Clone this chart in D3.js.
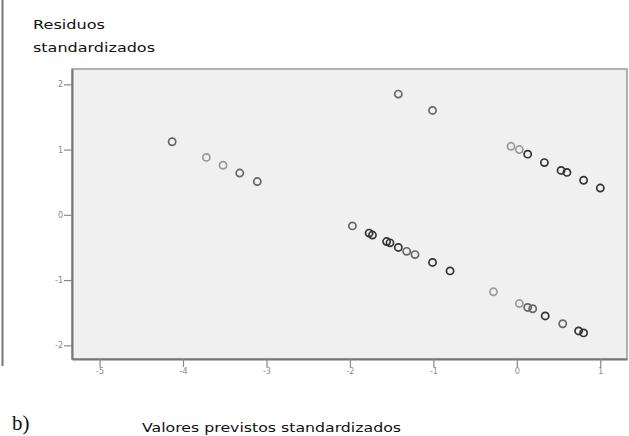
<!DOCTYPE html>
<html><head><meta charset="utf-8">
<script src="https://cdn.jsdelivr.net/npm/d3@7/dist/d3.min.js"></script>
<style>body{margin:0;background:#fff}svg{display:block}</style>
</head><body>
<svg id="c" width="629" height="436"></svg>
<script>
// Data (standardized predicted value, standardized residual, number of overlapping cases)
const predicted = [-4.13,-3.72,-3.52,-3.32,-3.11,
  -1.42,-1.01,
  -0.07,0.03,0.13,0.33,0.53,0.60,0.80,1.00,
  -1.97,-1.77,-1.73,-1.56,-1.52,-1.42,-1.32,-1.22,-1.01,-0.80,
  -0.28,0.03,0.13,0.19,0.34,0.55,0.74,0.80];
const residuals = [1.12,0.88,0.76,0.64,0.51,
  1.85,1.60,
  1.05,1.00,0.93,0.80,0.68,0.65,0.53,0.41,
  -0.17,-0.28,-0.31,-0.41,-0.43,-0.50,-0.56,-0.61,-0.73,-0.86,
  -1.18,-1.36,-1.42,-1.44,-1.55,-1.67,-1.78,-1.81];
const counts = [2,1,1,2,2,
  2,2,
  1,1,3,3,3,3,3,3,
  2,3,3,3,3,3,2,2,3,3,
  1,1,2,2,3,2,3,3];
const xTicks = [-5,-4,-3,-2,-1,0,1];
const yTicks = [-2,-1,0,1,2];
const yTitle = ["Residuos","standardizados"];
const xTitle = "Valores previstos standardizados";
const panelLabel = "b)";

const svg = d3.select("#c");
const L = 72, R = 627, T = 69, B = 359;
const x = d3.scaleLinear().domain([-5.33, 1.32]).range([L, R]);
const y = d3.scaleLinear().domain([-2.21, 2.235]).range([B, T]);

// outer left rule
svg.append("line").attr("x1",2.5).attr("x2",2.5).attr("y1",0).attr("y2",366)
  .attr("stroke","#777").attr("stroke-width",2);

// plot area
svg.append("rect").attr("x",L).attr("y",T).attr("width",R-L).attr("height",B-T)
  .attr("fill","#f0f0f0").attr("stroke","#999").attr("stroke-width",1.5);

// axes
const xa = svg.append("g").attr("transform",`translate(0,${B})`)
  .call(d3.axisBottom(x).tickValues(xTicks).tickSize(8).tickSizeOuter(0).tickFormat(d=>String(d)));
const ya = svg.append("g").attr("transform",`translate(${L},0)`)
  .call(d3.axisLeft(y).tickValues(yTicks).tickSize(8).tickSizeOuter(0).tickFormat(d=>String(d)));
[xa,ya].forEach(g=>{
  g.select(".domain").attr("stroke","#777").attr("stroke-width",2);
  g.selectAll(".tick line").attr("stroke","#888").attr("stroke-width",1.2);
  g.selectAll(".tick text").attr("fill","#888").attr("font-family","DejaVu Sans")
    .attr("font-size",8);
});
xa.selectAll(".tick text").attr("dy","0.9em").attr("y",8);
ya.selectAll(".tick text").attr("x",-9);

// points
const tone = d3.scaleOrdinal().domain([1,2,3]).range(["#9a9a9a","#666","#333"]);
svg.append("g").selectAll("circle").data(predicted).join("circle")
  .attr("cx",(d)=>x(d)).attr("cy",(d,i)=>y(residuals[i])).attr("r",3.6)
  .attr("fill","none").attr("stroke",(d,i)=>tone(counts[i])).attr("stroke-width",1.7);

// titles
const tf = "DejaVu Sans";
svg.append("text").attr("x",33).attr("y",29).text(yTitle[0])
  .attr("font-family",tf).attr("font-size",13).attr("fill","#111")
  .attr("textLength",72).attr("lengthAdjust","spacingAndGlyphs");
svg.append("text").attr("x",33).attr("y",52).text(yTitle[1])
  .attr("font-family",tf).attr("font-size",13).attr("fill","#111")
  .attr("textLength",122).attr("lengthAdjust","spacingAndGlyphs");
svg.append("text").attr("x",142).attr("y",432).text(xTitle)
  .attr("font-family",tf).attr("font-size",13).attr("fill","#111")
  .attr("textLength",259).attr("lengthAdjust","spacingAndGlyphs");
svg.append("text").attr("x",12).attr("y",430).text(panelLabel)
  .attr("font-family","Liberation Serif").attr("font-size",21).attr("fill","#111");
</script>
</body></html>
